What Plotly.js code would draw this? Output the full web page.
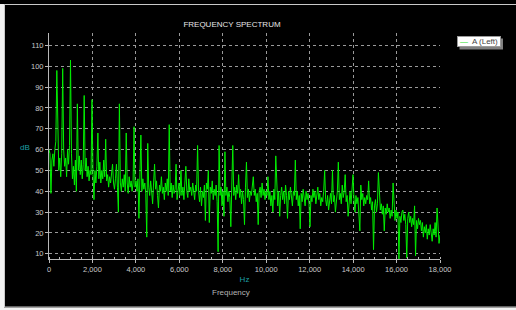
<!DOCTYPE html>
<html><head><meta charset="utf-8">
<script src="https://cdn.plot.ly/plotly-3.0.1.min.js"></script>
<style>html,body{margin:0;padding:0;background:#000;overflow:hidden;} #chart{width:516px;height:310px;}</style>
</head><body><div id="chart"></div>
<script>
// FFT bin spacing (Hz) of the spectrum
const binHz = 45;
// Magnitude (dB) per bin, 0 Hz .. 18000 Hz
const dbValues = [
60,58,39,55,58,52,60,64,98,62,50,56,47,58,99,60,52,56,47,60,
53,62,103,58,46,52,43,55,40,82,50,57,48,55,46,53,86,50,56,47,
52,45,50,48,84,48,36,50,44,52,68,46,54,44,50,46,55,47,65,45,
48,42,47,44,49,53,44,41,46,53,42,30,82,44,40,46,42,48,40,68,
44,39,47,42,45,40,44,71,42,45,40,46,27,44,67,40,46,41,44,39,
18,63,42,38,45,40,34,44,53,41,45,38,32,43,40,47,39,42,36,44,
40,46,38,72,40,44,37,43,39,41,53,36,41,44,38,50,38,42,36,45,
52,40,37,46,40,42,38,44,40,36,43,40,62,40,35,42,33,40,37,43,
26,44,41,50,25,42,39,45,36,41,38,43,35,11,62,38,42,33,40,28,
59,38,42,35,40,37,23,40,62,38,42,36,43,39,48,37,41,34,40,36,
24,42,54,37,41,35,40,38,43,47,38,41,35,39,24,40,42,37,44,38,
41,36,40,38,47,36,40,33,38,30,41,36,57,38,33,40,28,38,42,36,
40,34,43,38,27,40,36,42,37,33,40,38,55,36,40,33,38,22,39,35,
41,37,33,40,36,39,34,23,38,35,41,37,40,34,38,42,36,39,33,37,
35,40,50,36,33,38,31,36,39,34,50,35,38,30,36,40,54,36,39,34,
43,37,40,48,35,38,28,36,40,34,42,48,36,30,38,34,37,26,21,43,
36,39,33,37,34,38,36,45,34,37,31,35,12,33,36,30,34,49,36,31,
34,29,33,21,32,29,34,30,32,27,31,28,44,30,26,31,27,30,7,28,
25,30,31,26,29,24,8,27,30,25,28,23,27,24,33,9,26,22,27,24,
26,21,25,18,23,20,24,17,22,19,24,20,16,22,19,25,18,32,20,15,
19
];
const xTickVals = [0,2000,4000,6000,8000,10000,12000,14000,16000,18000];
const yTickVals = [10,20,30,40,50,60,70,80,90,100,110];
const seriesName = 'A (Left)';

const freqs = dbValues.map((v, i) => i * binHz);

// pixel -> paper helpers (plot area: x 49..440, y 33..259)
const L = 49, T = 33, PW = 391, PH = 226;
const pxX = p => (p - L) / PW;
const pxY = p => (T + PH - p) / PH;

const font = 'Liberation Sans, Arial, sans-serif';
const teal = '#1c9ea4';
const axisGray = '#b8b8b8';

const trace = {
  x: freqs, y: dbValues, name: seriesName, type: 'scatter', mode: 'lines',
  line: {color: '#00ee00', width: 1}, showlegend: false
};

const layout = {
  width: 516, height: 310,
  margin: {l: L, r: 516 - L - PW, t: T, b: 310 - T - PH},
  paper_bgcolor: '#000', plot_bgcolor: '#000',
  font: {family: font, size: 8, color: '#c8c8c8'},
  title: {text: 'FREQUENCY SPECTRUM', font: {size: 8, color: '#e6e6e6', family: font},
          x: 232 / 516, xref: 'container', xanchor: 'center', y: 1 - 24 / 310, yref: 'container', yanchor: 'middle'},
  xaxis: {
    range: [0, 18000], tickvals: xTickVals, tickformat: ',d',
    showline: true, linecolor: axisGray, linewidth: 1,
    ticks: 'outside', ticklen: 3, tickcolor: axisGray,
    minor: {dtick: 500, tick0: 0, ticks: 'inside', ticklen: 2, tickcolor: axisGray, showgrid: false},
    showgrid: true, gridcolor: '#9a9a9a', griddash: '3px,3px', gridwidth: 1, zeroline: false,
    tickfont: {size: 7.5, color: '#c8c8c8'},
    title: {text: 'Hz', font: {size: 8, color: teal}, standoff: 3},
    automargin: false
  },
  yaxis: {
    range: [7.5, 116], tickvals: yTickVals,
    showline: true, linecolor: axisGray, linewidth: 1,
    ticks: 'outside', ticklen: 3, tickcolor: axisGray,
    showgrid: true, gridcolor: '#9a9a9a', griddash: '3px,3px', gridwidth: 1, zeroline: false,
    tickfont: {size: 7.5, color: '#c8c8c8'},
    automargin: false
  },
  annotations: [
    {text: 'dB', xref: 'paper', yref: 'paper', x: pxX(25), y: pxY(147), showarrow: false,
     font: {size: 8, color: teal}, xanchor: 'center', yanchor: 'middle'},
    {text: 'Frequency', xref: 'paper', yref: 'paper', x: pxX(231), y: pxY(292), showarrow: false,
     font: {size: 8, color: '#b4b4b4'}, xanchor: 'center', yanchor: 'middle'},
    {text: '<span style="color:#22dd22">\u2014</span>  ' + seriesName, xref: 'paper', yref: 'paper',
     x: pxX(457), y: pxY(36), xanchor: 'left', yanchor: 'top', showarrow: false,
     width: 42, height: 9, align: 'center', bgcolor: '#ffffff', bordercolor: '#9a9a9a', borderwidth: 1, borderpad: 0,
     font: {size: 8, color: '#444'}}
  ],
  shapes: [
    // legend shadow
    {type: 'rect', xref: 'paper', yref: 'paper', x0: pxX(459.5), x1: pxX(503), y0: pxY(38.5), y1: pxY(49.5),
     fillcolor: '#808080', line: {width: 0}, layer: 'below'},
    // outer frame
    {type: 'rect', xref: 'paper', yref: 'paper', x0: pxX(0), x1: pxX(4), y0: pxY(4), y1: pxY(310),
     fillcolor: '#f2f2f2', line: {width: 0}},
    {type: 'rect', xref: 'paper', yref: 'paper', x0: pxX(0), x1: pxX(516), y0: pxY(307.5), y1: pxY(310),
     fillcolor: '#f2f2f2', line: {width: 0}},
    {type: 'line', xref: 'paper', yref: 'paper', x0: pxX(4), x1: pxX(516), y0: pxY(4.5), y1: pxY(4.5),
     line: {color: '#c8c8c8', width: 1}},
    {type: 'line', xref: 'paper', yref: 'paper', x0: pxX(4.5), x1: pxX(4.5), y0: pxY(4), y1: pxY(307),
     line: {color: '#c8c8c8', width: 1}},
    {type: 'line', xref: 'paper', yref: 'paper', x0: pxX(4), x1: pxX(516), y0: pxY(307), y1: pxY(307),
     line: {color: '#c8c8c8', width: 1}}
  ]
};

Plotly.newPlot('chart', [trace], layout, {staticPlot: true, displayModeBar: false});
</script>
</body></html>
